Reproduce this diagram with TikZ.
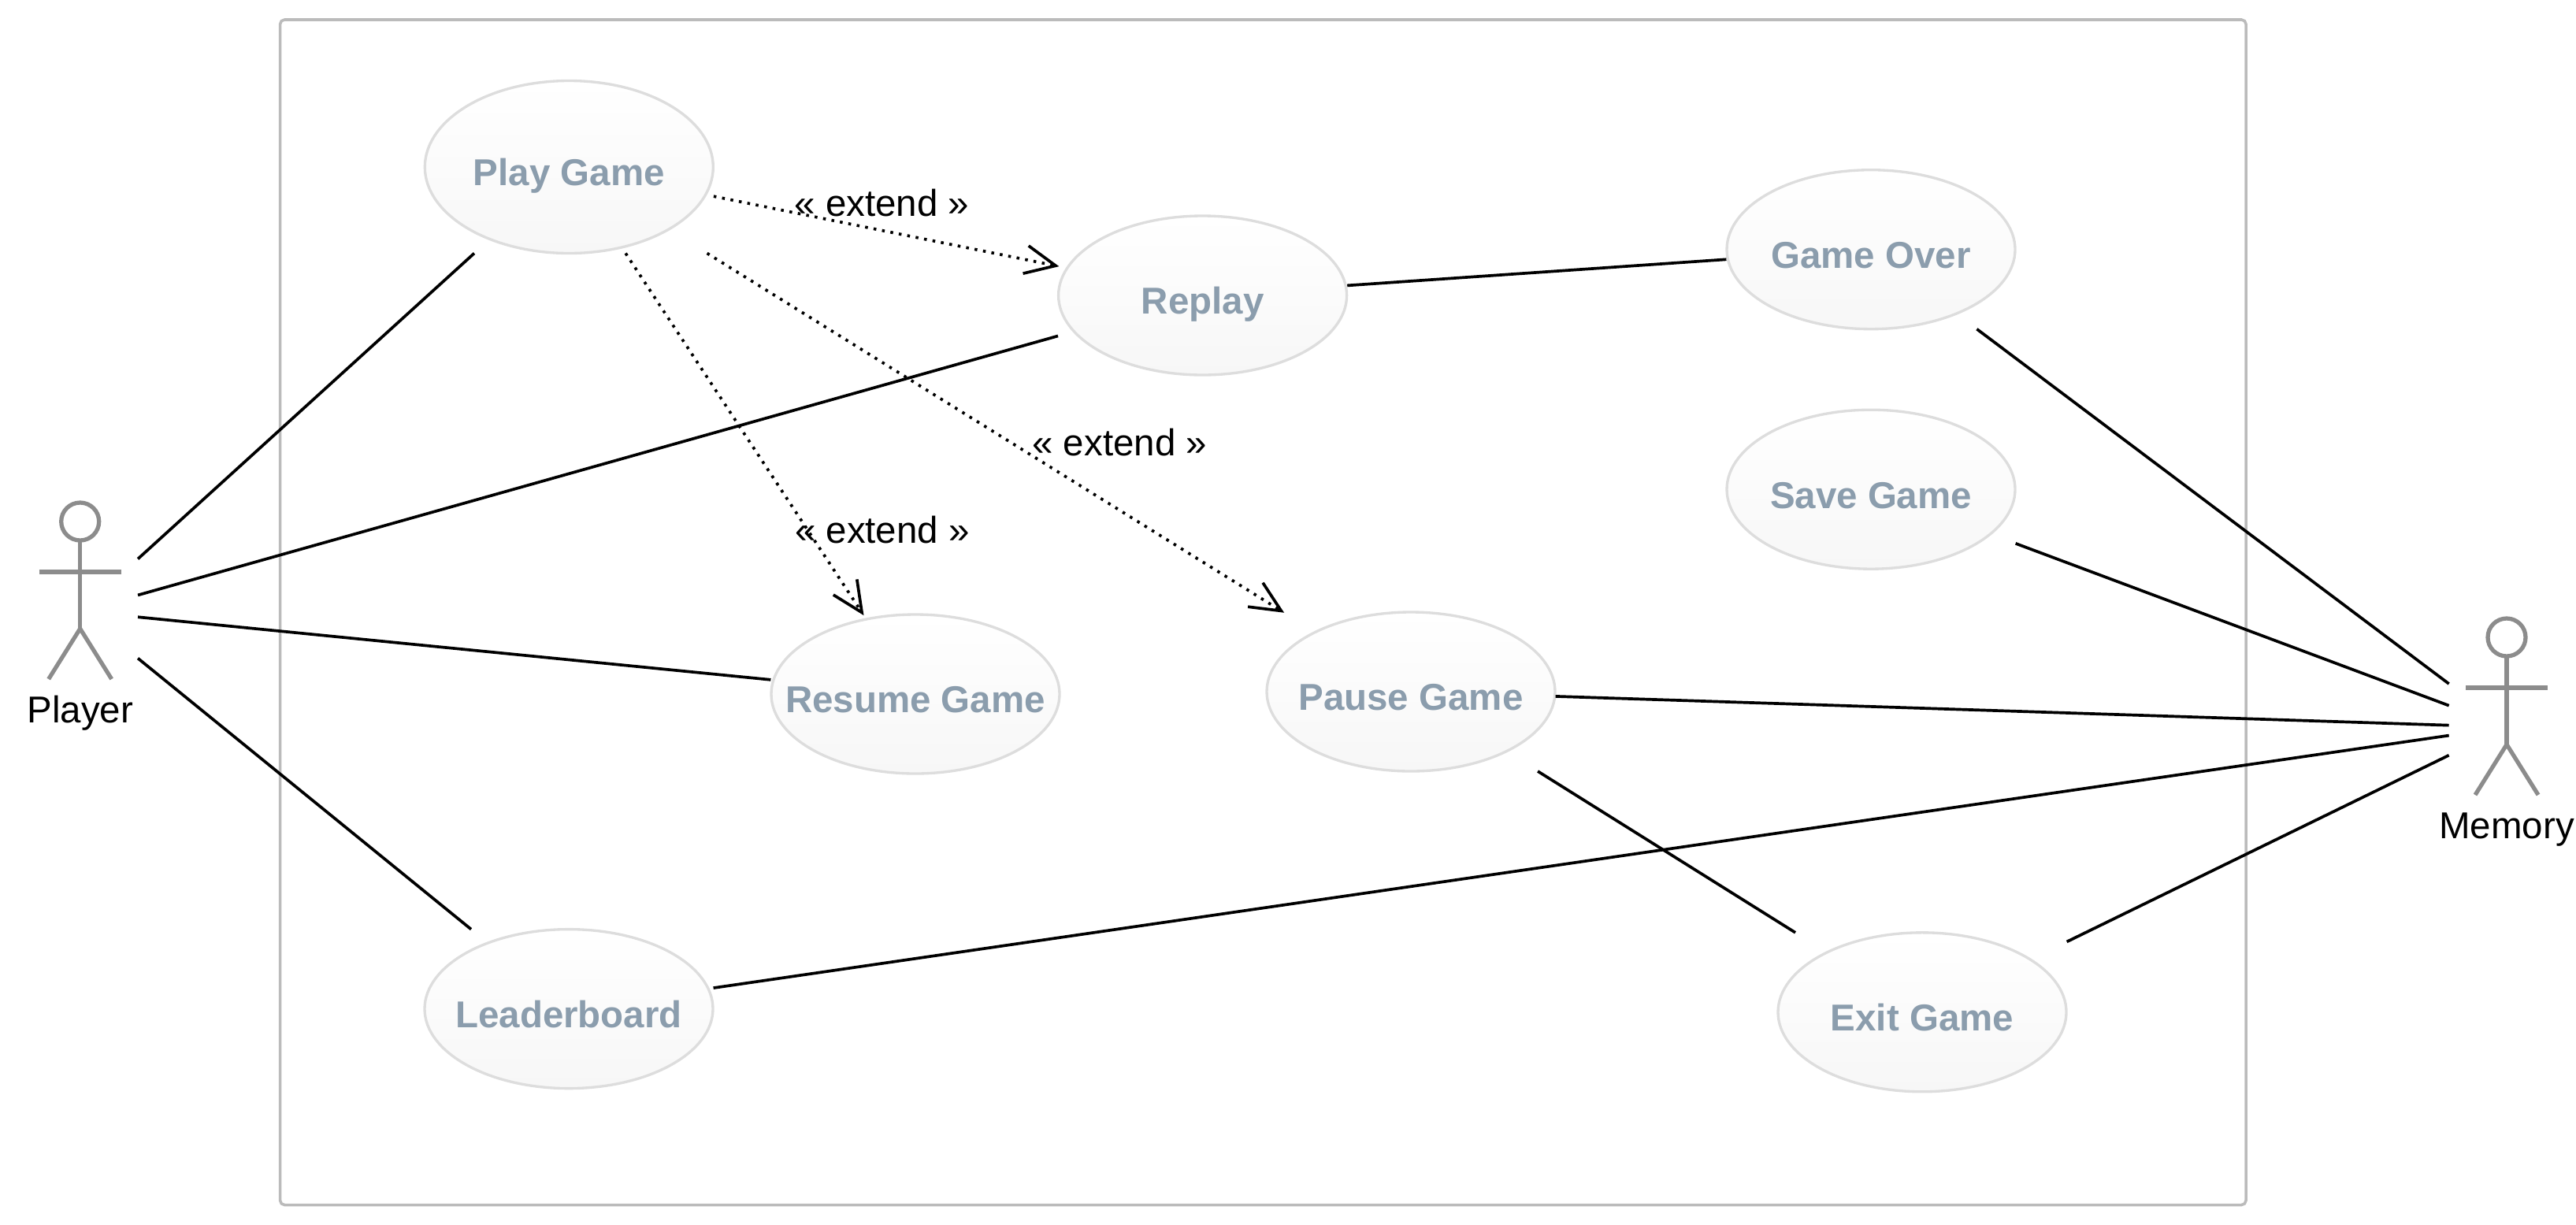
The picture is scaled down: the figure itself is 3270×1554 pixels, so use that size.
\documentclass[tikz,border=0pt]{standalone}
\usepackage{fontspec}
\setmainfont{Liberation Sans}
\usetikzlibrary{arrows.meta}
\definecolor{ucstroke}{HTML}{DDDDDD}
\definecolor{ucbottom}{HTML}{F7F7F7}
\definecolor{uctext}{HTML}{8B9DAD}
\definecolor{actorgray}{HTML}{8C8C8C}
\definecolor{framegray}{HTML}{BBBBBB}

\begin{document}
\begin{tikzpicture}[
			     x=0.01cm, y=-0.01cm,
			     system/.style={draw=framegray,line width=1pt,rounded corners=1.6pt},
			     usecase shape/.style={draw=ucstroke,line width=0.95pt,top color=white,bottom color=ucbottom},
			     usecase/.style={rectangle,inner sep=0pt,outer sep=0pt,minimum width=3.67cm,font=\fontsize{13.5}{16}\selectfont\bfseries,text=uctext,text height=13.6pt,text depth=0pt},
			     actor line/.style={draw=actorgray,line width=1.5pt},
			     actor box/.style={rectangle,inner sep=0pt,outer sep=0pt,minimum width=1.466cm,minimum height=2.8cm},
			     actor name/.style={font=\fontsize{13.5}{16}\selectfont,anchor=base,inner sep=0pt},
			     assoc/.style={line width=1.05pt},
			     extend/.style={line width=1.05pt,dash pattern=on 1pt off 2.1pt,shorten >=-0.4pt,-{Straight Barb[length=11pt,width=10.2pt]}},
			     extend name/.style={font=\fontsize{13.5}{16}\selectfont,inner sep=0pt}
			     ]
\useasboundingbox (0,0) rectangle (3270,1554);
\draw[system] (355.6,25) rectangle (2851,1529.5);
\foreach \name/\x/\y/\h/\txt in {PlayGame/722.3/212/219/Play Game, Replay/1526.6/375/202/Replay, GameOver/2375/316.7/202/Game Over, SaveGame/2375/621.2/202/Save Game, ResumeGame/1162/881/202/Resume Game, PauseGame/1791/878/202/Pause Game, Leaderboard/722/1280.6/202/Leaderboard, ExitGame/2440/1284.8/202/Exit Game} {
  \draw[usecase shape] (\x,\y) ellipse [x radius=183, y radius=\h/2];
  \node[usecase, minimum height={\h*0.01cm}] (\name) at (\x,\y) {\txt};
}
\foreach \name/\x/\y in {Player/101.7/776, Memory/3182/923} {
  \draw[actor line] (\x,\y-114) circle [radius=24];
  \draw[actor line] (\x,\y-90) -- (\x,\y+22);
  \draw[actor line] (\x-52,\y-50) -- (\x+52,\y-50);
  \draw[actor line] (\x-40,\y+86) -- (\x,\y+22) -- (\x+40,\y+86);
  \node[actor box] (\name) at (\x,\y) {};
  \node[actor name] (\name-label) at (\x,\y+141) {\name};
}
\path (Player) edge[assoc] (PlayGame);
\path (Player) edge[assoc] (Replay);
\path (Player) edge[assoc] (ResumeGame);
\path (Player) edge[assoc] (Leaderboard);
\path (Replay) edge[assoc] (GameOver);
\path (GameOver) edge[assoc] (Memory);
\path (SaveGame) edge[assoc] (Memory);
\path (PauseGame) edge[assoc] (Memory);
\path (Leaderboard) edge[assoc] (Memory);
\path (ExitGame) edge[assoc] (Memory);
\path (PauseGame) edge[assoc] (ExitGame);
\path (PlayGame) edge[extend] node[extend name,shift={(-5,-36)}] (extendReplay) {« extend »} (Replay);
\path (PlayGame) edge[extend] node[extend name,shift={(158,12)}] (extendPause) {« extend »} (PauseGame);
\path (PlayGame) edge[extend] node[extend name,shift={(175,122)}] (extendResume) {« extend »} (ResumeGame);
\end{tikzpicture}
\end{document}
